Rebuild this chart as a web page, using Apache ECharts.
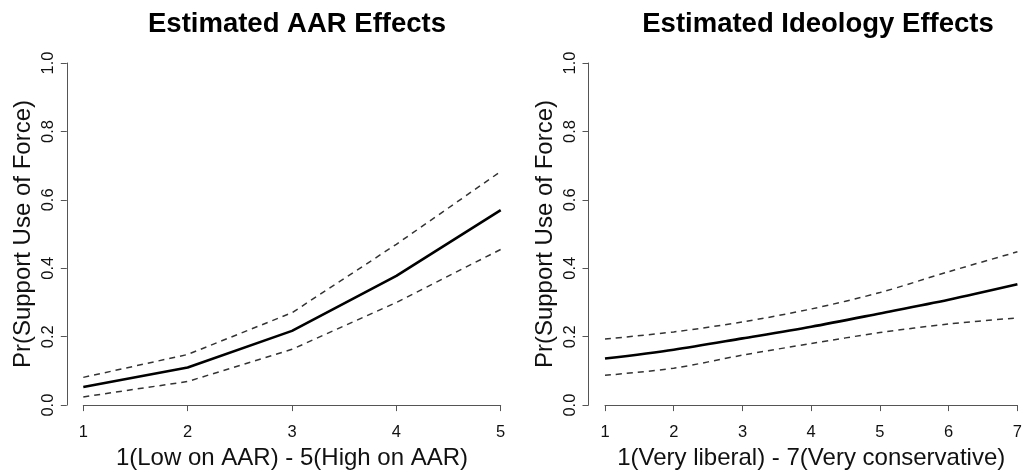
<!DOCTYPE html>
<html>
<head>
<meta charset="utf-8">
<script src="https://cdn.jsdelivr.net/npm/echarts@6/dist/echarts.min.js"></script>
<style>
html,body{margin:0;padding:0;background:#fff;}
#c{width:1025px;height:475px;}
</style>
</head>
<body>
<div id="c"></div>
<script>
// Left panel: AAR effects
const aarX = [1, 2, 3, 4, 5];
const aarEst = [0.053, 0.110, 0.217, 0.378, 0.570];
const aarUpper = [0.081, 0.148, 0.270, 0.470, 0.683];
const aarLower = [0.024, 0.069, 0.163, 0.300, 0.455];

// Right panel: Ideology effects
const ideoX = [1, 2, 3, 4, 5, 6, 7];
const ideoEst = [0.136, 0.162, 0.195, 0.229, 0.268, 0.308, 0.353];
const ideoUpper = [0.193, 0.214, 0.243, 0.281, 0.329, 0.390, 0.448];
const ideoLower = [0.087, 0.108, 0.146, 0.180, 0.212, 0.237, 0.255];

const yTicks = [0.0, 0.2, 0.4, 0.6, 0.8, 1.0];
const titles = ['Estimated AAR Effects', 'Estimated Ideology Effects'];
const xNames = ['1(Low on AAR) - 5(High on AAR)', '1(Very liberal) - 7(Very conservative)'];
const yName = 'Pr(Support Use of Force)';

const FONT = 'Liberation Sans, Arial, sans-serif';
const axisCol = '#555';

function pairs(xs, ys) { return xs.map((x, i) => [x, ys[i]]); }

function xAxisCfg(idx, min, max) {
  return {
    type: 'value', gridIndex: idx, min: min, max: max, interval: 1,
    offset: 15,
    name: xNames[idx], nameLocation: 'middle', nameGap: 19,
    nameTextStyle: { fontFamily: FONT, fontSize: 24, color: '#111' },
    axisLine: { show: true, lineStyle: { color: axisCol, width: 1 } },
    axisTick: { show: true, length: 6, lineStyle: { color: axisCol } },
    axisLabel: { show: true, margin: 4, fontFamily: FONT, fontSize: 16.5, color: '#111', showMinLabel: true, showMaxLabel: true },
    splitLine: { show: false }
  };
}
function yAxisCfg(idx) {
  return {
    type: 'value', gridIndex: idx, min: 0, max: 1, interval: 0.2,
    offset: 16.5,
    name: yName, nameLocation: 'middle', nameGap: 31, nameRotate: 90,
    nameTextStyle: { fontFamily: FONT, fontSize: 24, color: '#111' },
    axisLine: { show: true, lineStyle: { color: axisCol, width: 1 } },
    axisTick: { show: true, length: 6, lineStyle: { color: axisCol } },
    axisLabel: {
      show: true, rotate: 90, margin: 10, fontFamily: FONT, fontSize: 16.5, color: '#111',
      formatter: v => { const t = yTicks.find(k => Math.abs(k - v) < 1e-9); return (t !== undefined ? t : v).toFixed(1); }
    },
    splitLine: { show: false }
  };
}
function lineSeries(idx, data, kind, smooth) {
  const solid = kind === 'solid';
  return {
    type: 'line', xAxisIndex: idx, yAxisIndex: idx, data: data,
    showSymbol: false, symbol: 'none', smooth: smooth, clip: false,
    lineStyle: solid ? { color: '#000', width: 2.6, type: 'solid' }
                     : { color: '#333', width: 1.5, type: [6, 5] },
    z: solid ? 3 : 2, silent: true
  };
}

const chart = echarts.init(document.getElementById('c'), null, { renderer: 'canvas' });
chart.setOption({
  backgroundColor: '#fff',
  animation: false,
  title: [
    { text: titles[0], left: 292, top: 5, textAlign: 'center',
      textStyle: { fontFamily: FONT, fontSize: 27.5, fontWeight: 'bold', color: '#000' } },
    { text: titles[1], left: 813, top: 5, textAlign: 'center',
      textStyle: { fontFamily: FONT, fontSize: 27.5, fontWeight: 'bold', color: '#000' } }
  ],
  grid: [
    { left: 83.3, top: 63, width: 417.4, height: 346, containLabel: false },
    { left: 605, top: 63, width: 417.7, height: 346, containLabel: false }
  ],
  xAxis: [xAxisCfg(0, 1, 5), xAxisCfg(1, 1, 7)],
  yAxis: [yAxisCfg(0), yAxisCfg(1)],
  series: [
    lineSeries(0, pairs(aarX, aarUpper), 'dash', false),
    lineSeries(0, pairs(aarX, aarLower), 'dash', false),
    lineSeries(0, pairs(aarX, aarEst), 'solid', false),
    lineSeries(1, pairs(ideoX, ideoUpper), 'dash', 0.3),
    lineSeries(1, pairs(ideoX, ideoLower), 'dash', 0.3),
    lineSeries(1, pairs(ideoX, ideoEst), 'solid', 0.3)
  ]
});
</script>
</body>
</html>
